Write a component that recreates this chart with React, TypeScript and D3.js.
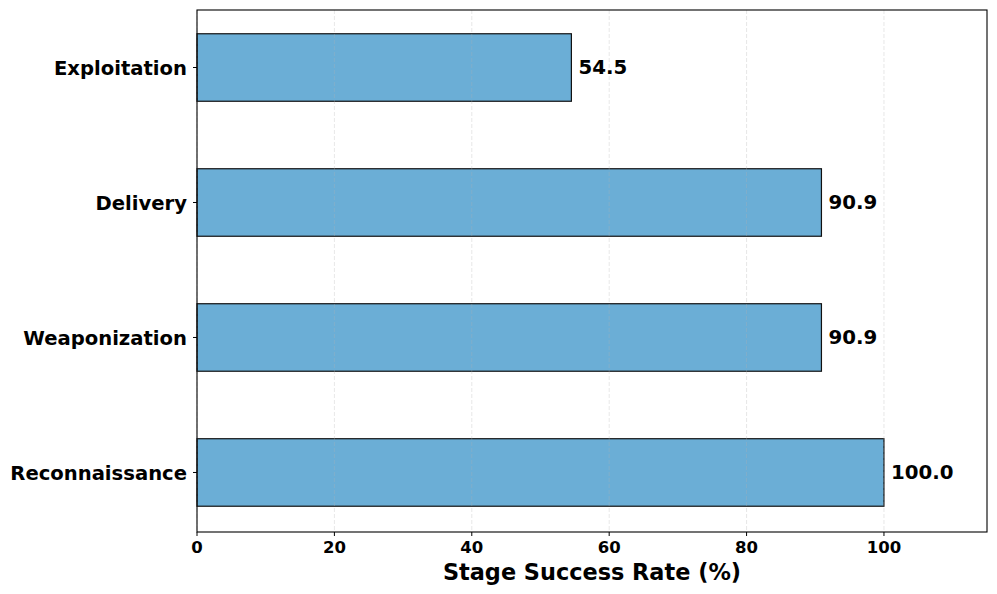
import React from "react";
import * as d3 from "d3";

const categories = ["Reconnaissance", "Weaponization", "Delivery", "Exploitation"];
const values = [100.0, 90.9, 90.9, 54.5];
const xTicks = [0, 20, 40, 60, 80, 100];

const W = 997, H = 594;
const L = 197, R = 987, T = 10, B = 532;

export default function App() {
  const x = d3.scaleLinear().domain([0, 115]).range([L, R]);
  const y = d3.scaleLinear().domain([-0.441, 3.426]).range([B, T]);
  const bh = y(0) - y(0.5);
  const font = "DejaVu Sans, sans-serif";
  return (
    <svg width={W} height={H} style={{ position: "absolute", left: 0, top: 0 }} fontFamily={font}>
      <rect x={0} y={0} width={W} height={H} fill="white" />
      {categories.map((c, i) => (
        <rect key={c} x={x(0)} y={y(i) - bh / 2} width={x(values[i]) - x(0)} height={bh}
          fill="#6baed6" stroke="#111" strokeWidth={1.2} />
      ))}
      {xTicks.map(t => (
        <line key={"g" + t} x1={x(t)} x2={x(t)} y1={T} y2={B} stroke="#b0b0b0" strokeOpacity={0.35}
          strokeDasharray="4,2" strokeWidth={0.9} />
      ))}
      <rect x={L} y={T} width={R - L} height={B - T} fill="none" stroke="#000" strokeWidth={1.1} />
      {xTicks.map(t => (
        <g key={"t" + t}>
          <line x1={x(t)} x2={x(t)} y1={B} y2={B + 4} stroke="#000" />
          <text x={x(t)} y={B + 21} textAnchor="middle" fontSize={16.5} fontWeight="bold">{t}</text>
        </g>
      ))}
      {categories.map((c, i) => (
        <g key={"y" + c}>
          <line x1={L - 4} x2={L} y1={y(i)} y2={y(i)} stroke="#000" />
          <text x={L - 10} y={y(i) + 1} dy="0.35em" textAnchor="end" fontSize={19.6} fontWeight="bold">{c}</text>
          <text x={x(values[i]) + 7} y={y(i)} dy="0.35em" fontSize={19.8} fontWeight="bold">{values[i].toFixed(1)}</text>
        </g>
      ))}
      <text x={(L + R) / 2} y={580} textAnchor="middle" fontSize={22.4} fontWeight="bold">Stage Success Rate (%)</text>
    </svg>
  );
}
